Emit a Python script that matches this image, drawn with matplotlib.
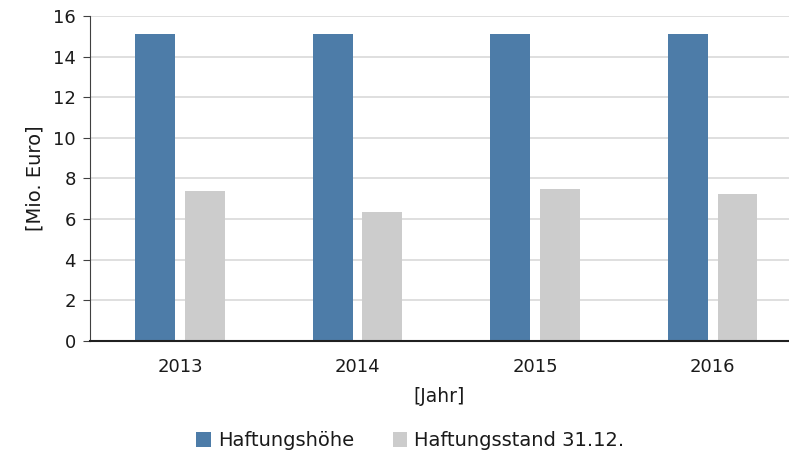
import numpy as np
import matplotlib.pyplot as plt

years = ['2013', '2014', '2015', '2016']
haftungshoehe = [15.1, 15.1, 15.1, 15.1]
haftungsstand = [7.4, 6.35, 7.5, 7.25]

blue = '#4d7ca8'
grey = '#cccccc'

plt.rcParams['font.family'] = 'DejaVu Sans'

fig = plt.figure(figsize=(7.89, 4.54), dpi=100)
ax = fig.add_axes([0.114, 0.249, 0.886, 0.716])

x = np.arange(len(years))
w = 0.225
ax.bar(x - 0.14, haftungshoehe, w, color=blue, label='Haftungshöhe', zorder=3)
ax.bar(x + 0.14, haftungsstand, w, color=grey, label='Haftungsstand 31.12.', zorder=3)

ax.set_xlim(-0.507, 3.43)
ax.set_ylim(0, 16)
ax.set_yticks(range(0, 17, 2))
ax.set_xticks(x)
ax.set_xticklabels(years)
ax.yaxis.grid(True, color='#dcdcdc', linewidth=1.3, zorder=0)
ax.set_axisbelow(True)

for s in ['top', 'right']:
    ax.spines[s].set_visible(False)
ax.spines['left'].set_color('#404040')
ax.spines['bottom'].set_color('#202020')
ax.spines['bottom'].set_linewidth(1.5)
ax.spines['bottom'].set_zorder(4)

ax.tick_params(axis='x', length=0, pad=12, labelsize=13, colors='#1a1a1a')
ax.tick_params(axis='y', length=5, direction='out', color='#404040', labelsize=13,
               colors='#1a1a1a', pad=5)

ax.set_xlabel('[Jahr]', fontsize=13.5, color='#1a1a1a', labelpad=8)
ax.set_ylabel('[Mio. Euro]', fontsize=14, color='#1a1a1a', labelpad=6)

fig.legend(loc='center', bbox_to_anchor=(0.52, 0.029), ncol=2, frameon=False,
           fontsize=14, handlelength=0.75, handleheight=0.75, handletextpad=0.35,
           columnspacing=2.0, labelcolor='#1a1a1a')

fig.savefig('out.png', dpi=100)
